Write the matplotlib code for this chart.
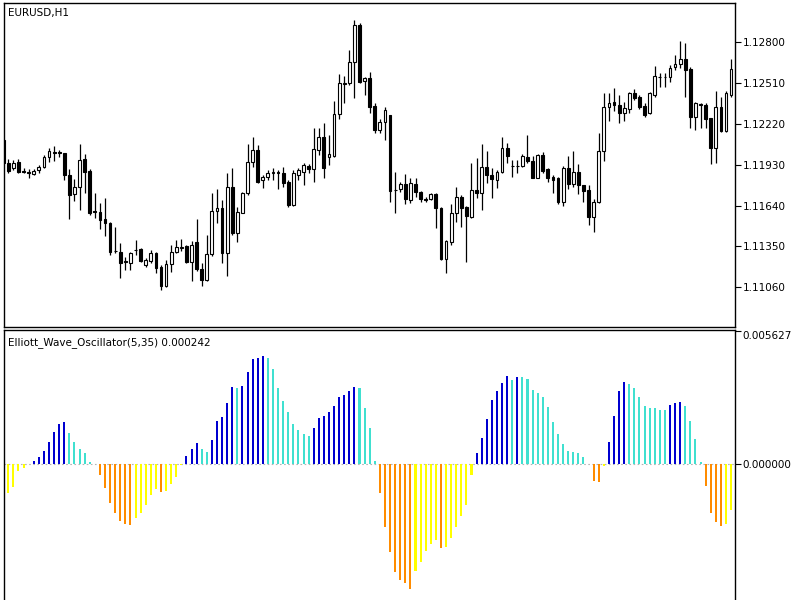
import matplotlib
matplotlib.use("Agg")
import matplotlib.pyplot as plt
import numpy as np

symbol = "EURUSD,H1"
osc_name = "Elliott_Wave_Oscillator(5,35) 0.000242"

# hourly candles
opens = [1.12106, 1.11940, 1.11904, 1.11951, 1.11885, 1.11875, 1.11862, 1.11892, 1.11911, 1.11983,
         1.12022, 1.12017, 1.12011, 1.11857, 1.11722, 1.11769, 1.11968, 1.11887, 1.11598, 1.11596,
         1.11542, 1.11513, 1.11320, 1.11311, 1.11242, 1.11233, 1.11321, 1.11329, 1.11217, 1.11247,
         1.11300, 1.11205, 1.11067, 1.11224, 1.11307, 1.11341, 1.11354, 1.11240, 1.11382, 1.11186,
         1.11110, 1.11295, 1.11603, 1.11620, 1.11300, 1.11769, 1.11442, 1.11589, 1.11727, 1.11947,
         1.12034, 1.11821, 1.11840, 1.11871, 1.11875, 1.11873, 1.11809, 1.11643, 1.11857, 1.11880,
         1.11921, 1.11897, 1.12034, 1.12129, 1.11983, 1.11992, 1.12291, 1.12507, 1.12509, 1.12662,
         1.12923, 1.12525, 1.12544, 1.12347, 1.12177, 1.12236, 1.12283, 1.11748, 1.11755, 1.11793,
         1.11679, 1.11793, 1.11738, 1.11686, 1.11684, 1.11722, 1.11620, 1.11257, 1.11382, 1.11584,
         1.11702, 1.11627, 1.11556, 1.11750, 1.11731, 1.11911, 1.11857, 1.11821, 1.11880, 1.12047,
         1.11919, 1.11923, 1.11921, 1.11983, 1.11958, 1.11833, 1.11999, 1.11897, 1.11840, 1.11833,
         1.11667, 1.11904, 1.11793, 1.11880, 1.11786, 1.11750, 1.11560, 1.11667, 1.12030, 1.12342,
         1.12378, 1.12354, 1.12295, 1.12324, 1.12442, 1.12409, 1.12347, 1.12295, 1.12426, 1.12552,
         1.12556, 1.12551, 1.12623, 1.12646, 1.12679, 1.12608, 1.12267, 1.12358, 1.12354, 1.12260,
         1.12047, 1.12342, 1.12172, 1.12426]
highs = [1.12127, 1.11968, 1.11963, 1.11968, 1.11904, 1.11897, 1.11897, 1.11928, 1.11999, 1.12047,
         1.12063, 1.12034, 1.12015, 1.11897, 1.11826, 1.12077, 1.12006, 1.11897, 1.11727, 1.11656,
         1.11691, 1.11525, 1.11489, 1.11375, 1.11276, 1.11311, 1.11395, 1.11336, 1.11265, 1.11324,
         1.11311, 1.11217, 1.11253, 1.11359, 1.11395, 1.11400, 1.11359, 1.11390, 1.11542, 1.11229,
         1.11430, 1.11731, 1.11755, 1.11679, 1.11873, 1.11904, 1.11631, 1.11738, 1.12077, 1.12129,
         1.12070, 1.11857, 1.11892, 1.11904, 1.11892, 1.11911, 1.11821, 1.11892, 1.11904, 1.11944,
         1.11935, 1.12189, 1.12189, 1.12229, 1.12141, 1.12385, 1.12575, 1.12561, 1.12745, 1.12959,
         1.12935, 1.12556, 1.12591, 1.12366, 1.12253, 1.12338, 1.12283, 1.11880, 1.11809, 1.11864,
         1.11833, 1.11833, 1.11745, 1.11698, 1.11727, 1.11731, 1.11627, 1.11395, 1.11651, 1.11774,
         1.11715, 1.11636, 1.11940, 1.11976, 1.12077, 1.12030, 1.11904, 1.11892, 1.12129, 1.12082,
         1.11963, 1.11963, 1.12006, 1.12141, 1.11992, 1.12006, 1.12022, 1.11904, 1.11857, 1.11845,
         1.11921, 1.11992, 1.12030, 1.11935, 1.11786, 1.11786, 1.11684, 1.12158, 1.12438, 1.12438,
         1.12473, 1.12426, 1.12378, 1.12449, 1.12466, 1.12426, 1.12366, 1.12449, 1.12632, 1.12584,
         1.12584, 1.12639, 1.12710, 1.12812, 1.12797, 1.12627, 1.12378, 1.12366, 1.12366, 1.12260,
         1.12456, 1.12409, 1.12456, 1.12679]
lows = [1.11935, 1.11869, 1.11892, 1.11873, 1.11869, 1.11833, 1.11857, 1.11869, 1.11904, 1.11947,
        1.11958, 1.11987, 1.11821, 1.11542, 1.11674, 1.11608, 1.11727, 1.11572, 1.11549, 1.11471,
        1.11423, 1.11288, 1.11300, 1.11122, 1.11181, 1.11181, 1.11288, 1.11240, 1.11205, 1.11229,
        1.11158, 1.11039, 1.11062, 1.11169, 1.11300, 1.11319, 1.11229, 1.11105, 1.11176, 1.11067,
        1.11105, 1.11281, 1.11518, 1.11229, 1.11139, 1.11430, 1.11382, 1.11584, 1.11715, 1.11916,
        1.11798, 1.11762, 1.11821, 1.11821, 1.11755, 1.11774, 1.11631, 1.11640, 1.11821, 1.11786,
        1.11869, 1.11809, 1.11999, 1.11833, 1.11928, 1.11983, 1.12253, 1.12366, 1.12497, 1.12402,
        1.12509, 1.12426, 1.12295, 1.12153, 1.12153, 1.12106, 1.11667, 1.11589, 1.11738, 1.11651,
        1.11660, 1.11702, 1.11667, 1.11667, 1.11679, 1.11478, 1.11253, 1.11158, 1.11359, 1.11525,
        1.11489, 1.11240, 1.11549, 1.11691, 1.11608, 1.11798, 1.11691, 1.11762, 1.11873, 1.11944,
        1.11840, 1.11869, 1.11916, 1.11944, 1.11833, 1.11833, 1.11869, 1.11809, 1.11727, 1.11651,
        1.11636, 1.11755, 1.11774, 1.11722, 1.11667, 1.11501, 1.11454, 1.11660, 1.11958, 1.12243,
        1.12314, 1.12229, 1.12243, 1.12295, 1.12390, 1.12324, 1.12267, 1.12291, 1.12409, 1.12480,
        1.12480, 1.12520, 1.12603, 1.12615, 1.12414, 1.12189, 1.12177, 1.12189, 1.12189, 1.11935,
        1.11940, 1.12165, 1.12165, 1.12414]
closes = [1.11942, 1.11887, 1.11944, 1.11880, 1.11878, 1.11871, 1.11887, 1.11916, 1.11987, 1.12030,
          1.12015, 1.12013, 1.11857, 1.11715, 1.11769, 1.11963, 1.11880, 1.11584, 1.11594, 1.11537,
          1.11513, 1.11311, 1.11316, 1.11229, 1.11238, 1.11304, 1.11325, 1.11247, 1.11253, 1.11304,
          1.11193, 1.11067, 1.11222, 1.11311, 1.11343, 1.11345, 1.11240, 1.11359, 1.11186, 1.11110,
          1.11295, 1.11603, 1.11620, 1.11300, 1.11769, 1.11442, 1.11596, 1.11731, 1.11947, 1.12034,
          1.11809, 1.11845, 1.11873, 1.11875, 1.11871, 1.11798, 1.11643, 1.11869, 1.11892, 1.11928,
          1.11899, 1.12040, 1.12129, 1.11904, 1.12006, 1.12291, 1.12509, 1.12511, 1.12662, 1.12923,
          1.12520, 1.12544, 1.12342, 1.12177, 1.12236, 1.12319, 1.11745, 1.11752, 1.11793, 1.11684,
          1.11802, 1.11738, 1.11684, 1.11682, 1.11722, 1.11620, 1.11257, 1.11390, 1.11584, 1.11702,
          1.11620, 1.11565, 1.11750, 1.11731, 1.11911, 1.11857, 1.11826, 1.11880, 1.12047, 1.11992,
          1.11923, 1.11919, 1.11992, 1.11958, 1.11833, 1.11999, 1.11887, 1.11833, 1.11821, 1.11667,
          1.11904, 1.11793, 1.11880, 1.11786, 1.11745, 1.11560, 1.11667, 1.12030, 1.12342, 1.12371,
          1.12354, 1.12295, 1.12331, 1.12438, 1.12402, 1.12338, 1.12283, 1.12438, 1.12561, 1.12556,
          1.12552, 1.12615, 1.12646, 1.12679, 1.12603, 1.12267, 1.12371, 1.12362, 1.12253, 1.12047,
          1.12338, 1.12172, 1.12442, 1.12608]

# oscillator histogram, one value per candle
ewo = [-0.00150, -0.00124, -0.00096, -0.00030, -0.00016, -0.00002, 0.00013, 0.00031, 0.00056, 0.00094,
       0.00137, 0.00169, 0.00176, 0.00133, 0.00094, 0.00063, 0.00045, 0.00010, -0.00002, -0.00047,
       -0.00100, -0.00166, -0.00209, -0.00241, -0.00255, -0.00258, -0.00227, -0.00209, -0.00173, -0.00131,
       -0.00106, -0.00117, -0.00113, -0.00086, -0.00054, -0.00003, 0.00035, 0.00063, 0.00090, 0.00063,
       0.00052, 0.00102, 0.00182, 0.00200, 0.00257, 0.00327, 0.00323, 0.00328, 0.00391, 0.00444,
       0.00450, 0.00458, 0.00450, 0.00402, 0.00320, 0.00266, 0.00219, 0.00169, 0.00142, 0.00125,
       0.00120, 0.00154, 0.00196, 0.00203, 0.00219, 0.00245, 0.00282, 0.00292, 0.00309, 0.00324,
       0.00323, 0.00238, 0.00151, 0.00013, -0.00124, -0.00265, -0.00374, -0.00458, -0.00491, -0.00505,
       -0.00529, -0.00455, -0.00416, -0.00368, -0.00340, -0.00321, -0.00356, -0.00350, -0.00314, -0.00265,
       -0.00219, -0.00173, -0.00047, 0.00045, 0.00109, 0.00190, 0.00271, 0.00309, 0.00341, 0.00372,
       0.00355, 0.00367, 0.00366, 0.00360, 0.00313, 0.00299, 0.00282, 0.00243, 0.00179, 0.00125,
       0.00083, 0.00055, 0.00052, 0.00045, 0.00028, -0.00002, -0.00072, -0.00078, -0.00007, 0.00094,
       0.00203, 0.00309, 0.00345, 0.00337, 0.00320, 0.00285, 0.00245, 0.00238, 0.00237, 0.00228,
       0.00227, 0.00250, 0.00259, 0.00264, 0.00245, 0.00183, 0.00104, 0.00007, -0.00093, -0.00206,
       -0.00247, -0.00261, -0.00254, -0.00195]

price_ticks = [1.12800, 1.12510, 1.12220, 1.11930, 1.11640, 1.11350, 1.11060]
osc_ticks = [0.005627, 0.0]

o = np.array(opens)
h = np.array(highs)
l = np.array(lows)
c = np.array(closes)
x = np.arange(len(o))

fig = plt.figure(figsize=(8, 6), dpi=100)
ax1 = fig.add_axes([4 / 800, 1 - 327 / 600, 730.5 / 800, 324 / 600])
ax2 = fig.add_axes([4 / 800, 1 - 610 / 600, 730.5 / 800, 280 / 600])

# candles
ax1.vlines(x, l, h, color="black", linewidth=0.9, zorder=2)
bull = c >= o
body = np.maximum(np.abs(c - o), 0.00002)
ax1.bar(x, body, bottom=np.minimum(o, c), width=0.55,
        color=np.where(bull, "white", "black"), edgecolor="black",
        linewidth=0.8, zorder=3)
ax1.set_xlim(0.157, 143.67)
ax1.set_ylim(1.10776, 1.13080)
ax1.set_xticks([])
ax1.yaxis.tick_right()
ax1.set_yticks(price_ticks)
ax1.set_yticklabels([f"{t:.5f}" for t in price_ticks])
ax1.text(0.0055, 0.985, symbol, transform=ax1.transAxes, ha="left", va="top", fontsize=7.5)

# oscillator
blue, turq, orange, yellow = "#0000D0", "#40E0D0", "#FF8C00", "#FFFF00"
colors = []
for i, v in enumerate(ewo):
    prev = ewo[i - 1] if i else v
    if v >= 0:
        colors.append(blue if v > prev else turq)
    else:
        colors.append(orange if v < prev else yellow)

ax2.axhline(0, color="#b4b4b4", linewidth=0.8, linestyle=(0, (1.5, 2.2)), zorder=1)
ax2.bar(x, ewo, width=0.4, color=colors, linewidth=0, zorder=2)
ax2.set_xlim(0.157, 143.67)
ax2.set_ylim(-0.00618, 0.00567)
ax2.set_xticks([])
ax2.yaxis.tick_right()
ax2.set_yticks(osc_ticks)
ax2.set_yticklabels([f"{t:.6f}" for t in osc_ticks])
ax2.get_yticklabels()[0].set_va("top")
ax2.text(0.0055, 0.975, osc_name, transform=ax2.transAxes, ha="left", va="top", fontsize=7.5)

for ax in (ax1, ax2):
    ax.tick_params(axis="y", direction="out", length=4, width=0.8, labelsize=7.5, pad=2)
    for s in ax.spines.values():
        s.set_linewidth(1.0)
        s.set_color("black")

fig.savefig("out.png", dpi=100)
